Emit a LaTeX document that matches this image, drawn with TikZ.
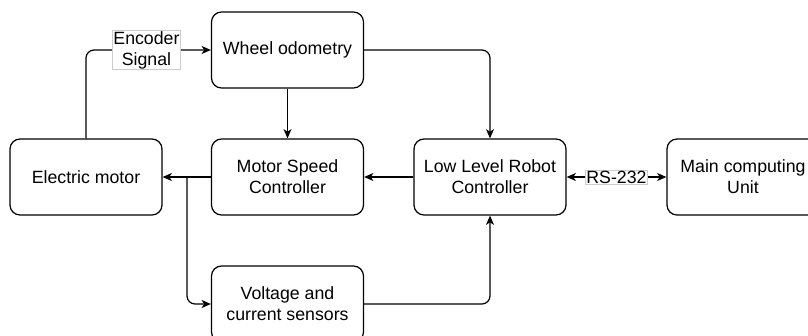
\documentclass[tikz,border=0pt]{standalone}
\usepackage{fontspec}
\setmainfont{Liberation Sans}
\usetikzlibrary{arrows.meta}

\tikzset{
  block/.style={draw, line width=0.9pt, rounded corners=7.5pt, minimum width=114pt, minimum height=57pt, align=center, inner sep=2pt},
  link/.style={line width=0.9pt, rounded corners=6pt, -{Stealth[length=7pt,width=6pt,inset=2pt]}},
  biglink/.style={link, {Stealth[length=7pt,width=6pt,inset=2pt]}-{Stealth[length=7pt,width=6pt,inset=2pt]}},
  tag/.style={fill=white, draw=black!20, line width=0.5pt, sharp corners, inner sep=0.5pt, align=center}
}

\begin{document}
\begin{tikzpicture}[x=0.75pt,y=0.75pt,yscale=-1,font=\fontsize{13.3}{15.8}\selectfont]
\useasboundingbox (0,0) rectangle (808,336);

% Blocks
\node[block] (motor) at (86,177) {Electric motor};
\node[block] (wheel) at (287.5,50) {Wheel odometry};
\node[block] (speed) at (287.5,177) {Motor Speed\\Controller};
\node[block] (lowlevel) at (490,177) {Low Level Robot\\Controller};
\node[block] (maincomp) at (743,177) {Main computing\\Unit};
\node[block] (sensors) at (287.5,304) {Voltage and\\current sensors};

% branch point on the motor line
\coordinate (split) at (187,177);

% Connectors
\draw[link] (motor.north) |- node[tag, pos=0.742] {Encoder\\Signal} (wheel.west);
\draw[link] (wheel) -- (speed);
\draw[link] (wheel.east) -| (lowlevel.north);
\draw[link] (lowlevel) -- (speed);
\draw[link] (speed) -- (motor);
\draw[link] (split) |- (sensors.west);
\draw[link] (sensors.east) -| (lowlevel.south);
\draw[biglink] (lowlevel) -- node[tag] {RS-232} (maincomp);

\end{tikzpicture}
\end{document}
